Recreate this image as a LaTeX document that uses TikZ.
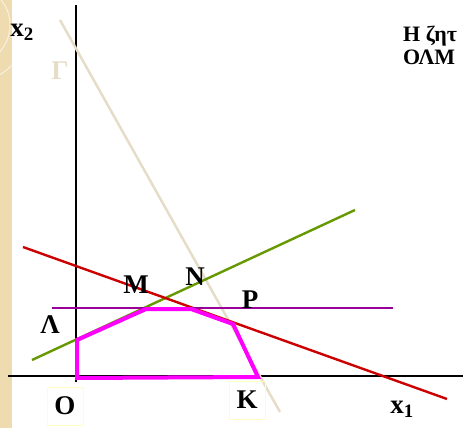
\documentclass[tikz,border=0pt]{standalone}
\usepackage{fontspec}
\setmainfont{Liberation Serif}
\usepackage{xcolor}
\usetikzlibrary{positioning}
\definecolor{bgbeige}{HTML}{EEDCB0}
\definecolor{gammabeige}{HTML}{E6DDC8}
\definecolor{linegreen}{HTML}{669900}
\definecolor{linered}{HTML}{CC0000}
\definecolor{linepurple}{HTML}{990099}
\definecolor{regionpink}{HTML}{FF00FF}
\definecolor{boxyellow}{HTML}{FFFFC0}

\begin{document}
\begin{tikzpicture}[x=1pt,y=-1pt,
  lbl/.style={font=\fontsize{27}{29}\selectfont\bfseries},
  cornerbox/.style={lbl,draw=boxyellow,line width=1pt,minimum width=36pt,minimum height=38pt},
  notetext/.style={font=\fontsize{22}{24}\selectfont\bfseries,anchor=base west,inner sep=0pt},
  lpline/.style={line width=2.4pt}]
  \useasboundingbox (0,0) rectangle (463,428);
  % Background strip on the left
  \fill[bgbeige] (0,0) rectangle (12,428);
  \begin{scope}
    \clip (0,0) rectangle (12,428);
    \draw[bgbeige!40!white,line width=1pt] (-30,25) circle (40);
    \draw[bgbeige!40!white,line width=1pt] (-30,25) circle (58);
  \end{scope}
  % Faint label of the old constraint
  \node[lbl,text=gammabeige] (gam) at (60,71) {Γ};
  % Axes
  \draw[line width=1.6pt] (76,5) -- (76,382);
  \draw[line width=1.2pt] (8,376) -- (463,376);
  \node[lbl] (xtwo) at (22,32) {x\textsubscript{2}};
  \node[lbl] (xone) at (402,409) {x\textsubscript{1}};
  % Constraint lines
  \draw[gammabeige,line width=2.5pt] (60,20) -- (280,412);
  \draw[linegreen,lpline] (32,360) -- (355,210);
  \draw[linered,lpline] (23,247) -- (447,399);
  \draw[linepurple,lpline] (52,308) -- (393,308);
  % Feasible region OLMNPK
  \coordinate (O) at (77,378);
  \coordinate (L) at (77,340);
  \coordinate (M) at (146,309);
  \coordinate (N) at (191,309);
  \coordinate (P) at (233,324);
  \coordinate (K) at (258,377);
  \draw[regionpink,line width=4pt] (O) -- (L) -- (M) -- (N) -- (P) -- (K) -- cycle;
  % Vertex labels
  \node[lbl] (lM) at (136,285) {M};
  \node[lbl] (lN) at (195,277) {N};
  \node[lbl] (lP) at (250,300) {P};
  \node[lbl] (lL) at (50,325) {Λ};
  \node[cornerbox] (lO) at (65,406) {O};
  \node[cornerbox] (lK) at (247,400) {K};
  % Note in the top right corner (runs off the page)
  \begin{scope}
    \clip (0,0) rectangle (463,428);
    \node[notetext] (note1) at (403,42) {Η ζητ};
    \node[notetext] (note2) at (403,64) {ΟΛΜ};
  \end{scope}
\end{tikzpicture}
\end{document}
